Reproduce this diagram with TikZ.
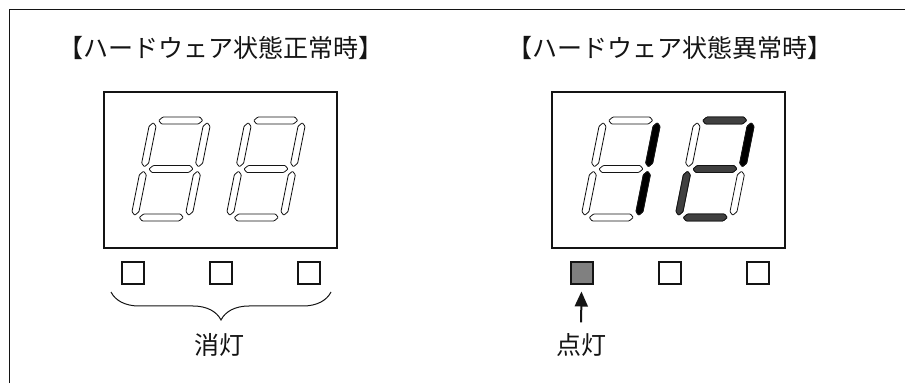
\documentclass[tikz,border=0pt]{standalone}
\usepackage{fontspec}
\newfontfamily\jpfont{Noto Sans CJK JP}
\usetikzlibrary{positioning, calc, arrows.meta, decorations.pathreplacing}
\definecolor{ink}{RGB}{20,20,20}
\definecolor{segon}{RGB}{0,0,0}
\definecolor{segdim}{RGB}{64,64,64}
\definecolor{lamp}{RGB}{128,128,128}
\tikzset{
  panel/.style={draw=ink,line width=1.2pt,minimum width=233pt,minimum height=156pt,
    inner sep=0pt},
  led/.style={draw=ink,line width=2pt,minimum size=22pt,inner sep=0pt,fill=white},
  title/.style={font=\jpfont\fontsize{25}{30}\selectfont,inner sep=0pt,text=ink},
  lbl/.style={font=\jpfont\fontsize{25}{30}\selectfont,inner sep=0pt,text=ink},
  seg/.style={draw=ink,line width=0.8pt,fill=white,rounded corners=0.8pt,transform shape},
  arr/.style={-{Triangle[length=15pt,width=13pt]},line width=2pt,ink},
  hseg/.pic={\path[pic actions] (-22,0) -- (-18.5,3.5) -- (18.5,3.5) -- (22,0)
    -- (18.5,-3.5) -- (-18.5,-3.5) -- cycle;},
  vseg/.pic={\path[pic actions] (0,-22) -- (3.5,-18.5) -- (3.5,18.5) -- (0,22)
    -- (-3.5,18.5) -- (-3.5,-18.5) -- cycle;},
}

\begin{document}
\begin{tikzpicture}[x=1pt,y=1pt]
  \useasboundingbox (0,0) rectangle (905,383);
  \draw[line width=1.5pt,ink] (9.3,0) -- (9.3,373.5) -- (905,373.5);

  % titles
  \node[title] (titleL) at (221,335) {【ハードウェア状態正常時】};
  \node[title] (titleR) at (670,335) {【ハードウェア状態異常時】};

  % displays
  \node[panel] (panelL) at (220.5,213) {};
  \node[panel] (panelR) at (668.5,213) {};
  \coordinate (dA) at ($(panelL.center)+(-49.5,1)$);
  \coordinate (dB) at ($(panelL.center)+(45.5,1)$);
  \coordinate (dC) at ($(panelR.center)+(-47.5,1)$);
  \coordinate (dD) at ($(panelR.center)+(46.5,1)$);
  \foreach \dig in {dA,dB,dC,dD}{
    \begin{scope}[shift={(\dig)},xslant=0.2]
      \foreach \sy in {48.5,0,-48.5} \pic[seg] at (0,\sy) {hseg};
      \foreach \sx in {-27,27} \foreach \sy in {24.25,-24.25}
        \pic[seg] at (\sx,\sy) {vseg};
    \end{scope}
  }
  % lit segments: "1" and "2"
  \begin{scope}[shift={(dC)},xslant=0.2]
    \pic[seg,fill=segon] at (27,24.25) {vseg};
    \pic[seg,fill=segon] at (27,-24.25) {vseg};
  \end{scope}
  \begin{scope}[shift={(dD)},xslant=0.2]
    \foreach \sy in {48.5,0,-48.5} \pic[seg,fill=segdim] at (0,\sy) {hseg};
    \pic[seg,fill=segon] at (27,24.25) {vseg};
    \pic[seg,fill=segdim] at (-27,-24.25) {vseg};
  \end{scope}

  % lamps
  \node[led] (ledL1) at (133,109.5) {};
  \node[led,right=64pt of ledL1] (ledL2) {};
  \node[led,right=64pt of ledL2] (ledL3) {};
  \node[led,fill=lamp] (ledR1) at (581.5,109.5) {};
  \node[led,right=64pt of ledR1] (ledR2) {};
  \node[led,right=64pt of ledR2] (ledR3) {};

  % off / on
  \coordinate (brL) at (111,91);
  \coordinate (brR) at (331,91);
  \draw[ink,line width=1pt,decorate,decoration={brace,amplitude=28pt}] (brR) -- (brL);
  \node[lbl] (offL) at (219,38) {消灯};
  \node[lbl] (onR) at (581,38) {点灯};
  \draw[arr,shorten <=11pt,shorten >=6pt] (onR.north) -- (ledR1.south);
\end{tikzpicture}
\end{document}
